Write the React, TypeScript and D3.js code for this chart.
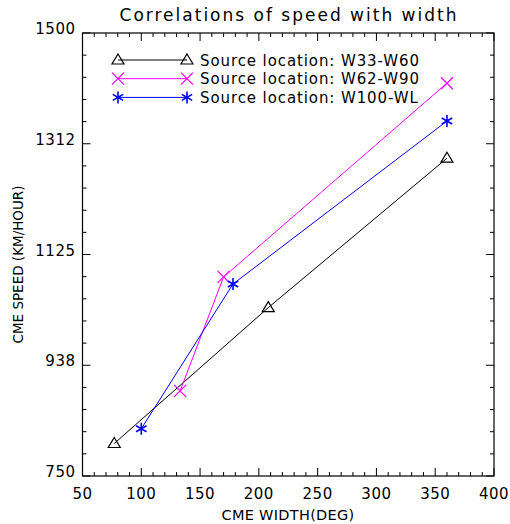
import React from 'react';
import { scaleLinear, line, range } from 'd3';

const width = 510;
const height = 524;
const margin = { top: 33, right: 16, bottom: 48, left: 82.5 };

const seriesNames = ['Source location: W33-W60', 'Source location: W62-W90', 'Source location: W100-WL'];
const colors = ['#000000', '#ff00ff', '#0000ff'];
const markers = ['triangle', 'cross', 'asterisk'];

const widthW33 = [77, 208, 360];
const speedW33 = [805, 1035, 1288];
const widthW62 = [133, 170, 360];
const speedW62 = [894, 1087, 1415];
const widthW100 = [100, 178, 360];
const speedW100 = [830, 1075, 1351];

const xTicks = [50, 100, 150, 200, 250, 300, 350, 400];
const yTicks = [750, 937.5, 1125, 1312.5, 1500];
const yTickLabels = ['750', '938', '1125', '1312', '1500'];

const font = 'DejaVu Sans, sans-serif';

const Marker = ({ type, x, y, color }: { type: string; x: number; y: number; color: string }) => {
  if (type === 'triangle') {
    return <path d={`M${x},${y - 6}L${x + 6},${y + 4}L${x - 6},${y + 4}Z`} fill="none" stroke={color} strokeWidth={1.2} />;
  }
  if (type === 'cross') {
    return <path d={`M${x - 6},${y - 6}L${x + 6},${y + 6}M${x - 6},${y + 6}L${x + 6},${y - 6}`} stroke={color} strokeWidth={1.2} />;
  }
  const a = 6, b = 5.2, c = 3;
  return (
    <path
      d={`M${x},${y - a}L${x},${y + a}M${x - b},${y - c}L${x + b},${y + c}M${x - b},${y + c}L${x + b},${y - c}`}
      stroke={color}
      strokeWidth={1.6}
    />
  );
};

const App = () => {
  const x = scaleLinear().domain([50, 400]).range([margin.left, width - margin.right]);
  const y = scaleLinear().domain([750, 1500]).range([height - margin.bottom, margin.top]);

  const series = [
    { xs: widthW33, ys: speedW33 },
    { xs: widthW62, ys: speedW62 },
    { xs: widthW100, ys: speedW100 },
  ].map((s, i) => ({
    name: seriesNames[i],
    color: colors[i],
    marker: markers[i],
    points: s.xs.map((v, j) => [v, s.ys[j]] as [number, number]),
  }));

  const path = line<[number, number]>()
    .x(d => x(d[0]))
    .y(d => y(d[1]));

  const x0 = margin.left;
  const x1 = width - margin.right;
  const y0 = height - margin.bottom;
  const y1 = margin.top;

  const xMinor = range(50, 400.01, 10);
  const yMinor = range(750, 1500.01, 37.5);

  return (
    <svg width={width} height={height} style={{ position: 'absolute', left: 0, top: 0 }}>
      <rect width={width} height={height} fill="#fff" />
      <text x={289} y={21} textAnchor="middle" fontFamily={font} fontSize={17} letterSpacing={2}>
        Correlations of speed with width
      </text>

      {/* ticks */}
      <g stroke="#000" strokeWidth={1}>
        {xMinor.map(t => {
          const len = xTicks.includes(Math.round(t)) ? 8 : 4;
          return (
            <g key={'xt' + t}>
              <line x1={x(t)} x2={x(t)} y1={y0} y2={y0 - len} />
              <line x1={x(t)} x2={x(t)} y1={y1} y2={y1 + len} />
            </g>
          );
        })}
        {yMinor.map((t, i) => {
          const len = i % 5 === 0 ? 8 : 4;
          return (
            <g key={'yt' + t}>
              <line x1={x0} x2={x0 + len} y1={y(t)} y2={y(t)} />
              <line x1={x1} x2={x1 - len} y1={y(t)} y2={y(t)} />
            </g>
          );
        })}
      </g>
      <rect x={x0} y={y1} width={x1 - x0} height={y0 - y1} fill="none" stroke="#000" strokeWidth={1.2} />

      {xTicks.map(t => (
        <text key={'xl' + t} x={x(t)} y={y0 + 23} textAnchor="middle" fontFamily={font} fontSize={15} letterSpacing={0.5}>
          {t}
        </text>
      ))}
      {yTicks.map((t, i) => (
        <text key={'yl' + t} x={x0 - 7} y={y(t) + 1} textAnchor="end" fontFamily={font} fontSize={15} letterSpacing={0.5}>
          {yTickLabels[i]}
        </text>
      ))}
      <text x={288} y={y0 + 44} textAnchor="middle" fontFamily={font} fontSize={14.5} letterSpacing={0.3}>
        CME WIDTH(DEG)
      </text>
      <text
        transform={`translate(23,${(y0 + y1) / 2 + 10}) rotate(-90)`}
        textAnchor="middle"
        fontFamily={font}
        fontSize={13.5}
      >
        CME SPEED (KM/HOUR)
      </text>

      {series.map(s => (
        <g key={s.name}>
          <path d={path(s.points) || ''} fill="none" stroke={s.color} strokeWidth={1} />
          {s.points.map((p, j) => (
            <Marker key={j} type={s.marker} x={x(p[0])} y={y(p[1])} color={s.color} />
          ))}
        </g>
      ))}

      {/* legend */}
      {series.map((s, i) => {
        const ly = 60 + i * 18.7;
        return (
          <g key={'lg' + i}>
            <line x1={118} x2={187} y1={ly} y2={ly} stroke={s.color} strokeWidth={1} />
            <Marker type={s.marker} x={118} y={ly} color={s.color} />
            <Marker type={s.marker} x={187} y={ly} color={s.color} />
            <text x={200} y={ly + 5.5} fontFamily={font} fontSize={15} letterSpacing={0.9}>
              {s.name}
            </text>
          </g>
        );
      })}
    </svg>
  );
};

export default App;
